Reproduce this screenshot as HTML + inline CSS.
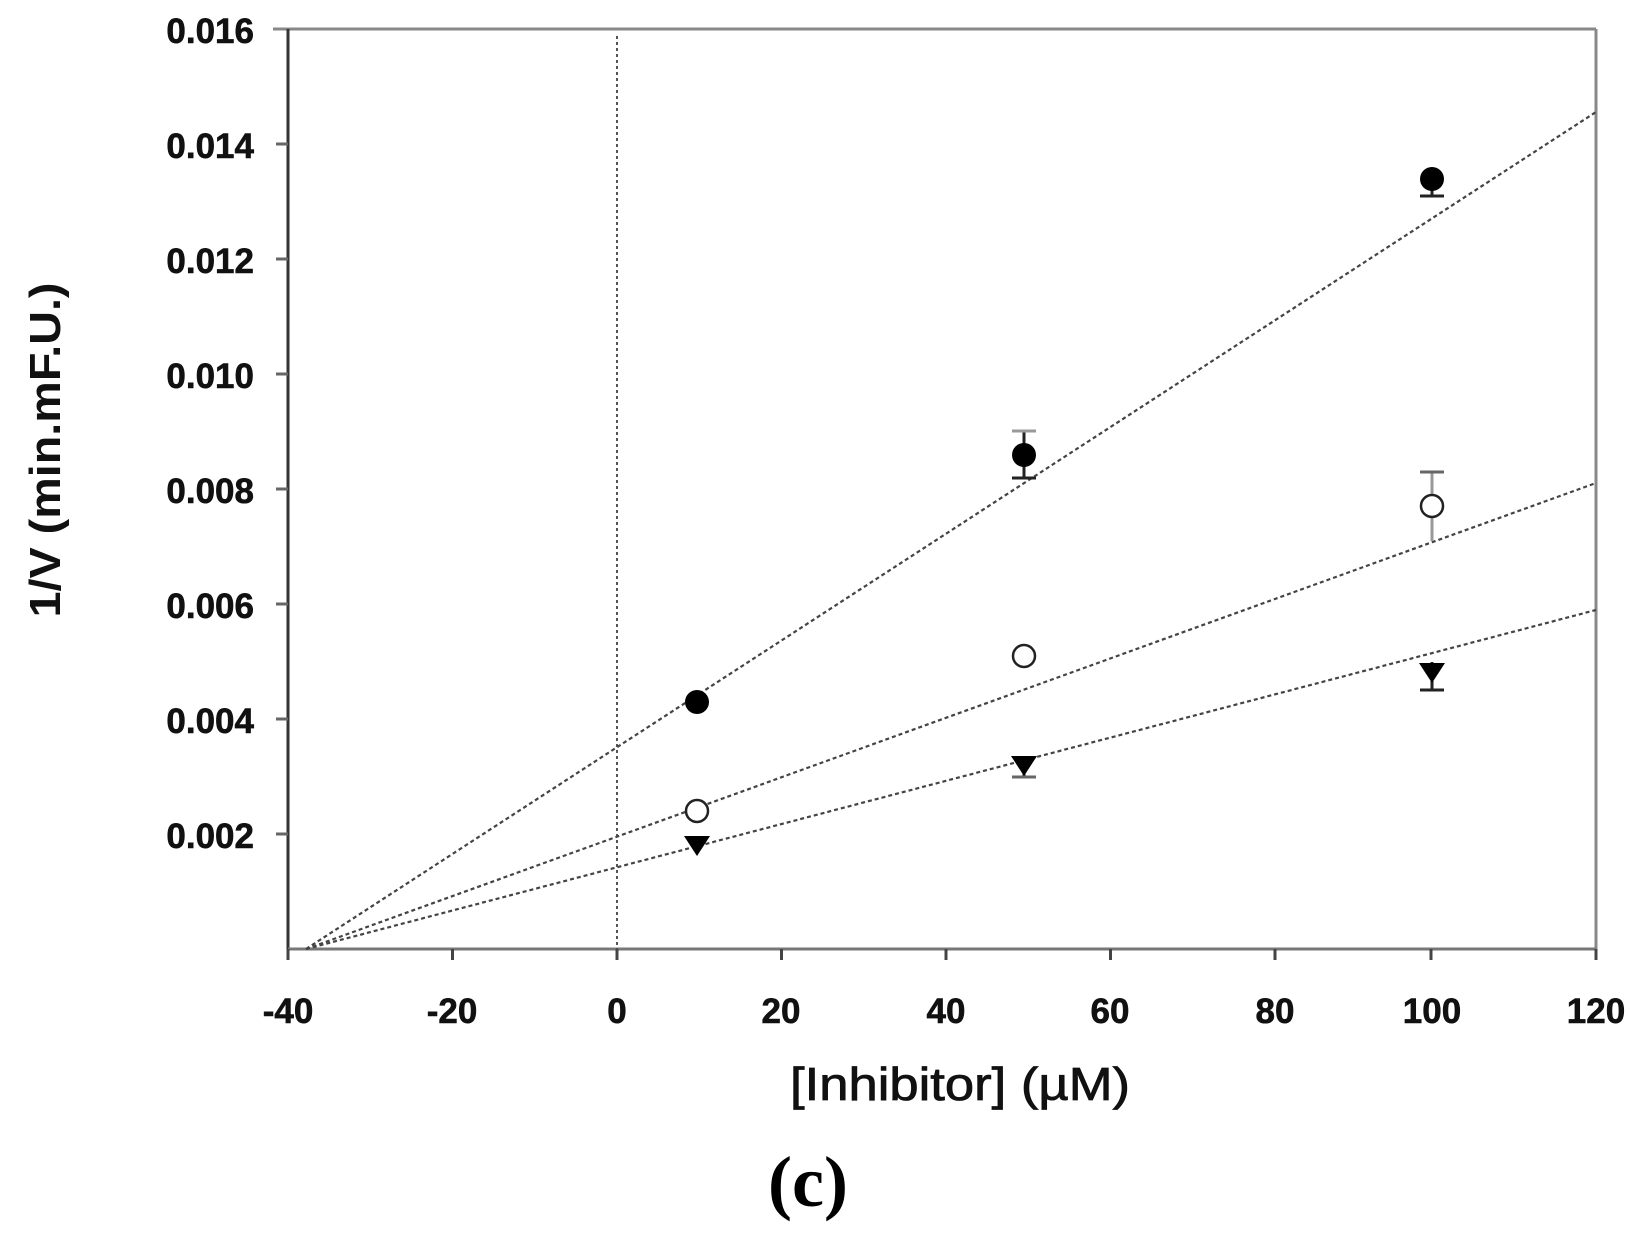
<!DOCTYPE html>
<html><head><meta charset="utf-8"><style>html,body{margin:0;padding:0;background:#fff}</style></head>
<body>
<svg width="1640" height="1236" viewBox="0 0 1640 1236" xmlns="http://www.w3.org/2000/svg" font-family="Liberation Sans, Arial, sans-serif">
<rect width="1640" height="1236" fill="#fff"/>
<line x1="273" y1="29" x2="1596" y2="29" stroke="#888" stroke-width="3"/>
<line x1="1596" y1="29" x2="1596" y2="949" stroke="#888" stroke-width="3"/>
<line x1="288" y1="29" x2="288" y2="949" stroke="#333" stroke-width="3"/>
<line x1="288" y1="949" x2="1596" y2="949" stroke="#777" stroke-width="3"/>
<g stroke="#444" stroke-width="3">
<line x1="288" y1="949" x2="288" y2="960"/><line x1="452.5" y1="949" x2="452.5" y2="960"/><line x1="617" y1="949" x2="617" y2="960"/><line x1="781.5" y1="949" x2="781.5" y2="960"/><line x1="946" y1="949" x2="946" y2="960"/><line x1="1110.5" y1="949" x2="1110.5" y2="960"/><line x1="1275" y1="949" x2="1275" y2="960"/><line x1="1431" y1="949" x2="1431" y2="960"/><line x1="1596" y1="949" x2="1596" y2="960"/>
</g>
<g stroke="#666" stroke-width="3">
<line x1="276" y1="834" x2="288" y2="834"/><line x1="276" y1="719" x2="288" y2="719"/><line x1="276" y1="604" x2="288" y2="604"/><line x1="276" y1="489" x2="288" y2="489"/><line x1="276" y1="374" x2="288" y2="374"/><line x1="276" y1="259" x2="288" y2="259"/><line x1="276" y1="144" x2="288" y2="144"/>
</g>
<g font-size="35" font-weight="bold" fill="#111" text-anchor="end" stroke="#111" stroke-width="0.6">
<text x="254" y="43">0.016</text><text x="254" y="158">0.014</text><text x="254" y="273">0.012</text><text x="254" y="388">0.010</text><text x="254" y="503">0.008</text><text x="254" y="618">0.006</text><text x="254" y="733">0.004</text><text x="254" y="848">0.002</text>
</g>
<g font-size="35" font-weight="bold" fill="#111" text-anchor="middle" stroke="#111" stroke-width="0.6">
<text x="288" y="1023">-40</text><text x="452" y="1023">-20</text><text x="617" y="1023">0</text><text x="781" y="1023">20</text><text x="946" y="1023">40</text><text x="1110" y="1023">60</text><text x="1275" y="1023">80</text><text x="1432" y="1023">100</text><text x="1596" y="1023">120</text>
</g>
<text x="960" y="1100" font-size="46" text-anchor="middle" fill="#111" stroke="#111" stroke-width="0.8" textLength="340" lengthAdjust="spacingAndGlyphs">[Inhibitor] (µM)</text>
<text transform="translate(60,450) rotate(-90)" font-size="44" font-weight="bold" text-anchor="middle" fill="#111" textLength="335" lengthAdjust="spacingAndGlyphs">1/V (min.mF.U.)</text>
<text x="808" y="1206" font-size="72" font-weight="bold" text-anchor="middle" font-family="Liberation Serif, serif" fill="#000">(c)</text>
<line x1="617" y1="36" x2="617" y2="949" stroke="#555" stroke-width="2" stroke-dasharray="3,3"/>
<g stroke="#444" stroke-width="2.2" stroke-dasharray="4,3" fill="none">
<line x1="306" y1="949" x2="1596" y2="112"/>
<line x1="306" y1="949" x2="1596" y2="483"/>
<line x1="306" y1="949" x2="1596" y2="610"/>
</g>
<g stroke="#222" stroke-width="3">
<line x1="1024" y1="431" x2="1024" y2="478"/><line x1="1012" y1="431" x2="1036" y2="431" stroke="#999"/><line x1="1012" y1="478" x2="1036" y2="478"/>
<line x1="1432" y1="178" x2="1432" y2="196"/><line x1="1420" y1="196" x2="1444" y2="196"/>
<line x1="1432" y1="472" x2="1432" y2="541" stroke="#999"/><line x1="1420" y1="472" x2="1444" y2="472" stroke="#666"/>
<line x1="1432" y1="662" x2="1432" y2="690"/><line x1="1420" y1="690" x2="1444" y2="690"/>
<line x1="1024" y1="765" x2="1024" y2="777"/><line x1="1012" y1="777" x2="1036" y2="777" stroke="#666"/>
</g>
<g fill="#000">
<circle cx="697" cy="702" r="12"/><circle cx="1024" cy="455" r="12"/><circle cx="1432" cy="179" r="12"/>
</g>
<g fill="#fff" stroke="#222" stroke-width="2.5">
<circle cx="697" cy="811" r="11"/><circle cx="1024" cy="656" r="11"/><circle cx="1432" cy="506" r="11"/>
</g>
<g fill="#000">
<polygon points="684,836 710,836 697,856"/><polygon points="1011,756 1037,756 1024,776"/><polygon points="1419,663 1445,663 1432,683"/>
</g>
</svg>
</body></html>
